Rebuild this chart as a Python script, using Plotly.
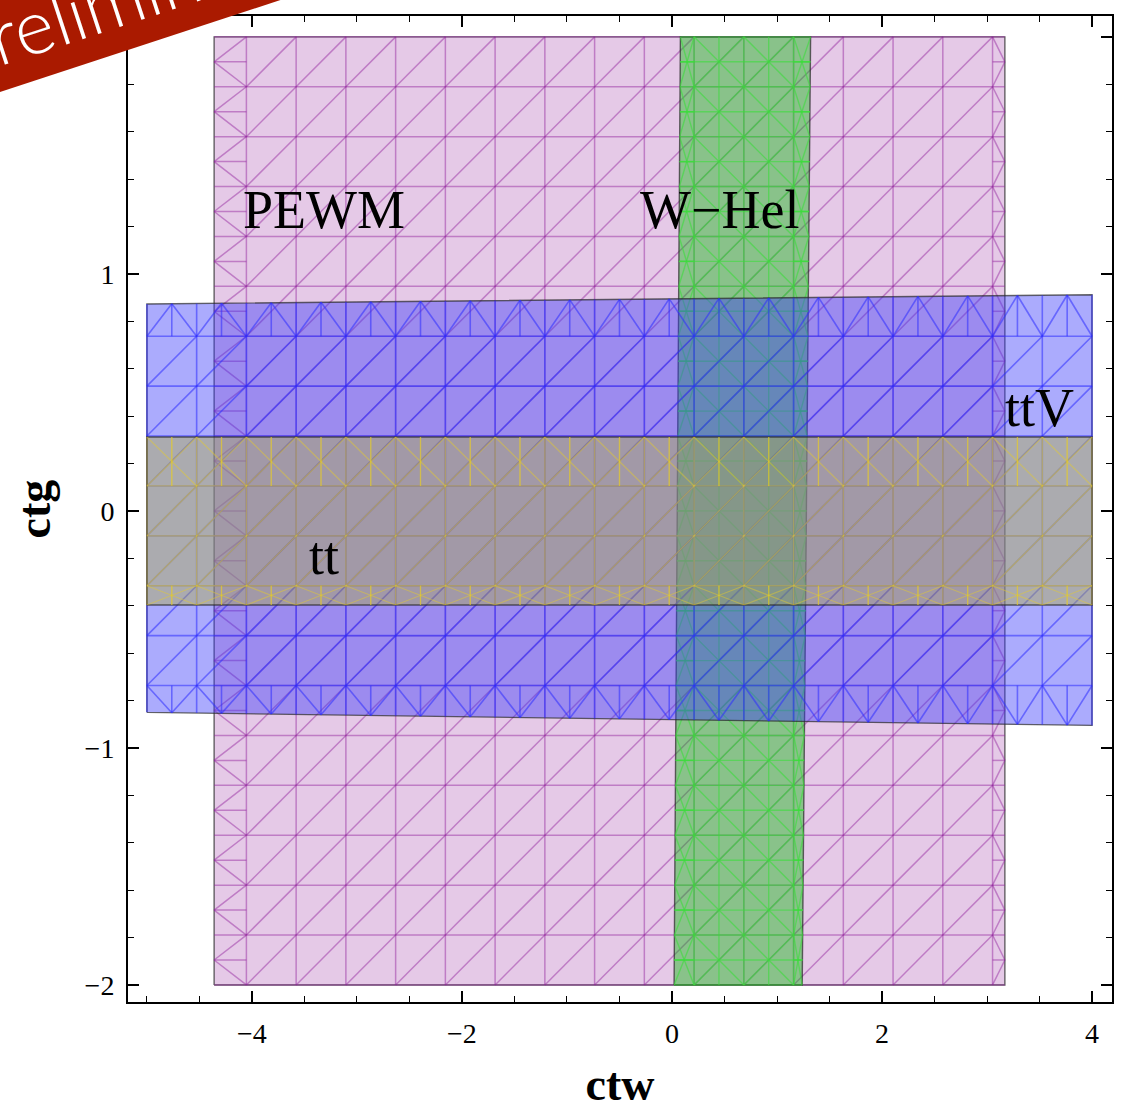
import numpy as np
import plotly.graph_objects as go

# ---------------- data ----------------
# sampling grid of the region plot (x: ctw, y: ctg)
grid_x_range = [-5.0, 4.0]
grid_y_range = [-2.0, 2.0]
grid_cells = 19

# region corners, order: bottom-left, bottom-right, top-right, top-left
pewm_x = [-4.36, 3.17, 3.17, -4.36]
pewm_y = [-2.0, -2.0, 2.0, 2.0]
whel_x = [0.02, 1.24, 1.32, 0.08]
whel_y = [-2.0, -2.0, 2.0, 2.0]
ttv_x = [-5.0, 4.0, 4.0, -5.0]
ttv_y = [-0.85, -0.905, 0.912, 0.873]
tt_x = [-5.0, 4.0, 4.0, -5.0]
tt_y = [-0.397, -0.397, 0.312, 0.312]

label_text = ["PEWM", "W\u2212Hel", "ttV", "tt"]
label_x = [-3.31, 0.45, 3.5, -3.31]
label_y = [1.27, 1.27, 0.435, -0.19]

x_ticks = [-4, -2, 0, 2, 4]
y_ticks = [-2, -1, 0, 1, 2]

# ---------------- mesh helpers ----------------
xg = np.linspace(grid_x_range[0], grid_x_range[1], grid_cells + 1)
yg = np.linspace(grid_y_range[0], grid_y_range[1], grid_cells + 1)
hx = xg[1] - xg[0]
hy = yg[1] - yg[0]


def inside(px, py, poly, eps=1e-7):
    for i in range(4):
        x0, y0 = poly[i]
        x1, y1 = poly[(i + 1) % 4]
        if (x1 - x0) * (py - y0) - (y1 - y0) * (px - x0) < -eps:
            return False
    return True


def clip(p0, p1, poly):
    t0, t1 = 0.0, 1.0
    dx, dy = p1[0] - p0[0], p1[1] - p0[1]
    for i in range(4):
        x0, y0 = poly[i]
        x1, y1 = poly[(i + 1) % 4]
        nx, ny = -(y1 - y0), (x1 - x0)
        num = nx * (p0[0] - x0) + ny * (p0[1] - y0)
        den = nx * dx + ny * dy
        if abs(den) < 1e-12:
            if num < -1e-9:
                return None
            continue
        t = -num / den
        if den > 0:
            t0 = max(t0, t)
        else:
            t1 = min(t1, t)
    if t1 - t0 < 1e-9:
        return None
    return ((p0[0] + t0 * dx, p0[1] + t0 * dy), (p0[0] + t1 * dx, p0[1] + t1 * dy))


def lerp(a, b, t):
    return a + (b - a) * t


def mesh(xs, ys, style):
    poly = list(zip(xs, ys))
    BL, BR, TR, TL = poly
    xL = lambda y: lerp(BL[0], TL[0], (y - BL[1]) / (TL[1] - BL[1]))
    xR = lambda y: lerp(BR[0], TR[0], (y - BR[1]) / (TR[1] - BR[1]))
    yB = lambda x: lerp(BL[1], BR[1], (x - BL[0]) / (BR[0] - BL[0]))
    yT = lambda x: lerp(TL[1], TR[1], (x - TL[0]) / (TR[0] - TL[0]))

    def add(lst, seg):
        if seg is None:
            return
        (a, b), (c, d) = seg
        lst[0].extend([a, c, None])
        lst[1].extend([b, d, None])

    Hs, Vs, Ds = ([], []), ([], []), ([], [])
    xlines = list(xg)
    ylines = list(yg)
    if style == "fine":
        xlines += list(xg[:-1] + hx / 2)
        ylines += list(yg[:-1] + hy / 2)
    for x in xlines:
        add(Vs, clip((x, -3), (x, 3), poly))
    for y in ylines:
        add(Hs, clip((-6, y), (6, y), poly))
    for k in range(grid_cells):
        for j in range(grid_cells):
            c = [(xg[k], yg[j]), (xg[k + 1], yg[j]), (xg[k + 1], yg[j + 1]), (xg[k], yg[j + 1])]
            if all(inside(p[0], p[1], poly) for p in c):
                add(Ds, ((xg[k], yg[j]), (xg[k + 1], yg[j + 1])))
                if style == "fine":
                    add(Ds, ((xg[k], yg[j + 1]), (xg[k + 1], yg[j])))

    def strip_cell(a, b, c, d, m1, m2):
        # quad a-b (inner side), c-d (edge side); m1-m2 midline
        if style in ("jack", "fine"):
            add(Ds, (a, c))
            add(Ds, (b, d))
            add(Ds, (m1, m2))
            add(Ds, (((a[0] + b[0]) / 2, (a[1] + b[1]) / 2), ((c[0] + d[0]) / 2, (c[1] + d[1]) / 2)))
        else:
            e = ((c[0] + d[0]) / 2, (c[1] + d[1]) / 2)
            add(Ds, (a, e))
            add(Ds, (e, b))
            add(Ds, (e, ((a[0] + b[0]) / 2, (a[1] + b[1]) / 2)))

    tol = 0.02
    # left strip
    emax = max(BL[0], TL[0])
    k0 = int(np.searchsorted(xg, emax - 1e-9))
    if k0 <= grid_cells and xg[k0] - emax > tol:
        xi = xg[k0]
        for j in range(grid_cells):
            if inside(xi, yg[j], poly) and inside(xi, yg[j + 1], poly):
                ym = yg[j] + hy / 2
                strip_cell((xi, yg[j]), (xi, yg[j + 1]), (xL(yg[j + 1]), yg[j + 1]),
                           (xL(yg[j]), yg[j]), (xi, ym), (xL(ym), ym))
    # right strip
    emin = min(BR[0], TR[0])
    k1 = int(np.searchsorted(xg, emin + 1e-9)) - 1
    if k1 >= 0 and emin - xg[k1] > tol:
        xi = xg[k1]
        for j in range(grid_cells):
            if inside(xi, yg[j], poly) and inside(xi, yg[j + 1], poly):
                ym = yg[j] + hy / 2
                strip_cell((xi, yg[j]), (xi, yg[j + 1]), (xR(yg[j + 1]), yg[j + 1]),
                           (xR(yg[j]), yg[j]), (xi, ym), (xR(ym), ym))
    # bottom strip
    emax = max(BL[1], BR[1])
    j0 = int(np.searchsorted(yg, emax - 1e-9))
    if j0 <= grid_cells and yg[j0] - emax > tol:
        yi = yg[j0]
        for k in range(grid_cells):
            if inside(xg[k], yi, poly) and inside(xg[k + 1], yi, poly):
                xm = xg[k] + hx / 2
                strip_cell((xg[k], yi), (xg[k + 1], yi), (xg[k + 1], yB(xg[k + 1])),
                           (xg[k], yB(xg[k])), (xm, yi), (xm, yB(xm)))
    # top strip
    emin = min(TL[1], TR[1])
    j1 = int(np.searchsorted(yg, emin + 1e-9)) - 1
    if j1 >= 0 and emin - yg[j1] > tol:
        yi = yg[j1]
        for k in range(grid_cells):
            if inside(xg[k], yi, poly) and inside(xg[k + 1], yi, poly):
                xm = xg[k] + hx / 2
                strip_cell((xg[k], yi), (xg[k + 1], yi), (xg[k + 1], yT(xg[k + 1])),
                           (xg[k], yT(xg[k])), (xm, yi), (xm, yT(xm)))
    return Hs, Vs, Ds


fig = go.Figure()

regions = [
    (pewm_x, pewm_y, "rgba(190,120,195,0.40)", "rgba(145,30,155,0.45)", 1.5, "zig"),
    (whel_x, whel_y, "rgba(0,185,0,0.40)", "rgba(60,220,60,0.60)", 1.4, "fine"),
    (ttv_x, ttv_y, "rgba(55,55,250,0.42)", "rgba(45,45,255,0.55)", 1.6, "zig"),
    (tt_x, tt_y, "rgba(170,170,80,0.45)", "rgba(230,205,40,0.45)", 1.3, "jack"),
]

for xs, ys, fillc, meshc, lw, style in regions:
    fig.add_trace(go.Scatter(
        x=xs + [xs[0]], y=ys + [ys[0]], mode="lines", fill="toself",
        fillcolor=fillc, line=dict(color="rgba(40,40,40,0.7)", width=1.4),
        hoverinfo="skip", showlegend=False))
    for seg in mesh(xs, ys, style):
        fig.add_trace(go.Scatter(
            x=seg[0], y=seg[1], mode="lines",
            line=dict(color=meshc, width=lw),
            hoverinfo="skip", showlegend=False))

serif = "Liberation Serif, Times New Roman, serif"

for t, x, y in zip(label_text, label_x, label_y):
    fig.add_annotation(x=x, y=y, xref="x", yref="y", text=t, showarrow=False,
                       font=dict(family=serif, size=54, color="black"))

# ---------- preliminary banner ----------
W, Hh = 1121, 1117
ml, mr, mt, mb = 128, 9, 16, 115
pw, ph = W - ml - mr, Hh - mt - mb


def px(X):
    return (X - ml) / pw


def py(Y):
    return (Hh - mb - Y) / ph


slope = 0.328
pts = [(-20, 92 + 20 * slope), (300, 92 - 300 * slope), (300, -30), (-20, -30)]
path = "M " + " L ".join(f"{px(a):.5f},{py(b):.5f}" for a, b in pts) + " Z"
fig.add_shape(type="path", path=path, xref="paper", yref="paper",
              fillcolor="rgb(170,26,0)", line=dict(width=0), layer="above")
fig.add_annotation(x=px(121), y=py(-4), xref="paper", yref="paper",
                   text="Preliminary", showarrow=False, textangle=-18.2,
                   xanchor="center", yanchor="middle",
                   font=dict(family="Lato, Open Sans, sans-serif", size=76,
                             color="white", weight=300))

axis_common = dict(
    showline=True, linecolor="black", linewidth=2, mirror="ticks",
    ticks="inside", tickcolor="black", tickwidth=1.6, ticklen=11,
    showgrid=False, zeroline=False,
    tickfont=dict(family=serif, size=28, color="black"),
)

fig.update_xaxes(**axis_common, range=[-5.18, 4.19], tickmode="array",
                 tickvals=x_ticks, ticklabelstandoff=5,
                 minor=dict(ticks="inside", ticklen=6, tickwidth=1.4,
                            tickcolor="black", dtick=0.5, tick0=0),
                 title=dict(text="<b>ctw</b>", standoff=20,
                            font=dict(family=serif, size=46, color="black")))
fig.update_yaxes(**axis_common, range=[-2.072, 2.088], tickmode="array",
                 tickvals=y_ticks, ticklabelstandoff=6,
                 minor=dict(ticks="inside", ticklen=6, tickwidth=1.4,
                            tickcolor="black", dtick=0.2, tick0=0),
                 title=dict(text="<b>ctg</b>", standoff=20,
                            font=dict(family=serif, size=46, color="black")))

fig.update_layout(
    width=W, height=Hh,
    margin=dict(l=ml, r=mr, t=mt, b=mb, autoexpand=False),
    plot_bgcolor="white", paper_bgcolor="white",
    showlegend=False,
)

fig.write_html("out.html")
